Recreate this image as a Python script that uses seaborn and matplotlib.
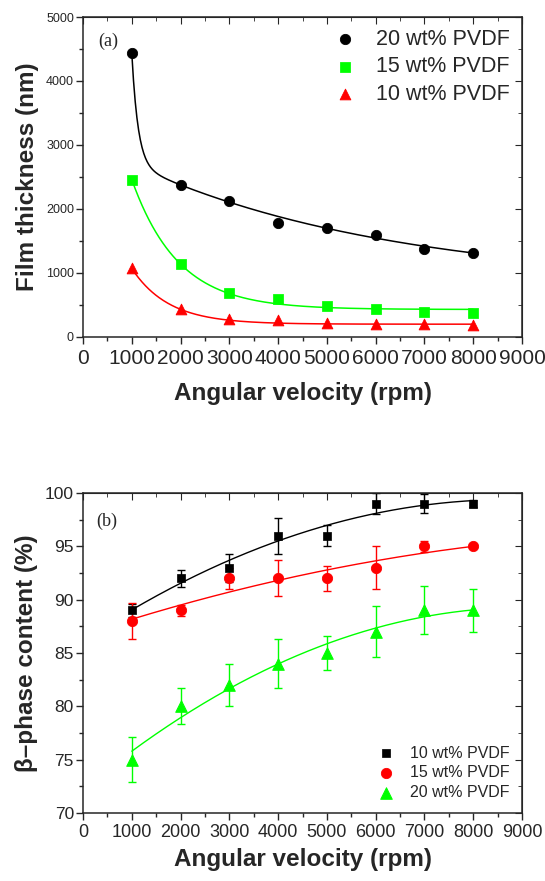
import numpy as np
import pandas as pd
import matplotlib
matplotlib.use("Agg")
import matplotlib.pyplot as plt
from matplotlib.ticker import MultipleLocator
import seaborn as sns

# angular velocity (rpm)
rpm = [1000, 2000, 3000, 4000, 5000, 6000, 7000, 8000]

# panel (a): film thickness (nm)
thick_20 = [4437, 2375, 2125, 1786, 1703, 1599, 1375, 1312]
thick_15 = [2458, 1140, 687, 594, 484, 437, 385, 370]
thick_10 = [1073, 432, 281, 266, 224, 208, 203, 187]

# decay fit parameters: (offset, amp1, tau1, amp2, tau2)
fit_20 = (800, 1737, 128, 1900, 5338)
fit_15 = (430, 2030, 950, 0, 1)
fit_10 = (200, 870, 757, 0, 1)

# panel (b): beta-phase content (%) and errors
beta_10 = [89, 92, 93, 96, 96, 99, 99, 99]
err_10 = [0.6, 0.8, 1.3, 1.7, 1.0, 1.0, 0.9, 0.3]
beta_15 = [88, 89, 92, 92, 92, 93, 95, 95]
err_15 = [1.7, 0.5, 1.0, 1.7, 1.15, 2.0, 0.5, 0.2]
beta_20 = [75, 80, 82, 84, 85, 87, 89, 89]
err_20 = [2.1, 1.7, 2.0, 2.3, 1.6, 2.4, 2.25, 2.0]

GREEN = "#00ff00"
RED = "#ff0000"
BLACK = "#000000"

sns.set_style("ticks")
plt.rcParams["font.family"] = ["Liberation Sans", "DejaVu Sans"]

fig = plt.figure(figsize=(5.45, 8.81), dpi=100)
ax_a = fig.add_axes([0.1523, 0.6175, 0.8055, 0.3632])
ax_b = fig.add_axes([0.1523, 0.0772, 0.8055, 0.3632])


def decay(x, p):
    y0, a1, t1, a2, t2 = p
    return y0 + a1 * np.exp(-(x - 1000) / t1) + a2 * np.exp(-(x - 1000) / t2)


def style_axes(ax, ymaj, ymin, ytick_size, xtick_size, xpad, lpad):
    ax.set_xlim(0, 9000)
    ax.xaxis.set_major_locator(MultipleLocator(1000))
    ax.xaxis.set_minor_locator(MultipleLocator(500))
    ax.yaxis.set_major_locator(MultipleLocator(ymaj))
    ax.yaxis.set_minor_locator(MultipleLocator(ymin))
    ax.tick_params(which="major", direction="out", length=5, width=1, pad=1.5)
    ax.tick_params(which="minor", direction="out", length=3, width=1)
    ax.tick_params(axis="y", labelsize=ytick_size)
    ax.tick_params(axis="x", labelsize=xtick_size, pad=xpad)
    for s in ax.spines.values():
        s.set_linewidth(1.1)
        s.set_visible(True)
    top = ax.secondary_xaxis("top")
    top.xaxis.set_major_locator(MultipleLocator(1000))
    top.xaxis.set_minor_locator(MultipleLocator(500))
    top.tick_params(which="major", direction="in", length=5, labeltop=False)
    top.tick_params(which="minor", direction="in", length=3)
    right = ax.secondary_yaxis("right")
    right.yaxis.set_major_locator(MultipleLocator(ymaj))
    right.yaxis.set_minor_locator(MultipleLocator(ymin))
    right.tick_params(which="major", direction="in", length=5, labelright=False)
    right.tick_params(which="minor", direction="in", length=3)
    ax.set_xlabel("Angular velocity (rpm)", fontsize=17.5, fontweight="bold", labelpad=lpad)


# ---------- panel (a) ----------
xs = np.linspace(1000, 8000, 400)
df_a = pd.DataFrame({"rpm": rpm, "t20": thick_20, "t15": thick_15, "t10": thick_10})
for p, c in [(fit_20, BLACK), (fit_15, GREEN), (fit_10, RED)]:
    sns.lineplot(x=xs, y=decay(xs, p), color=c, lw=1.1, ax=ax_a, legend=False)
sns.scatterplot(data=df_a, x="rpm", y="t20", marker="o", s=55, color=BLACK,
                edgecolor=BLACK, ax=ax_a, label="20 wt% PVDF", zorder=3)
sns.scatterplot(data=df_a, x="rpm", y="t15", marker="s", s=45, color=GREEN,
                edgecolor=GREEN, ax=ax_a, label="15 wt% PVDF", zorder=3)
sns.scatterplot(data=df_a, x="rpm", y="t10", marker="^", s=60, color=RED,
                edgecolor=RED, ax=ax_a, label="10 wt% PVDF", zorder=3)
ax_a.set_ylim(0, 5000)
style_axes(ax_a, 1000, 500, 9, 15, 4, 10)
ax_a.set_ylabel("Film thickness (nm)", fontsize=17.5, fontweight="bold", labelpad=5)
ax_a.legend(loc="upper right", fontsize=15.5, frameon=False, handletextpad=0.7,
            labelspacing=0.3, borderaxespad=0.15, handlelength=1.5)
ax_a.text(0.035, 0.925, "(a)", transform=ax_a.transAxes, fontsize=13,
          family=["Liberation Serif"], va="center", ha="left")

# ---------- panel (b) ----------
df_b = pd.DataFrame({"rpm": rpm, "b10": beta_10, "b15": beta_15, "b20": beta_20})
for col, err, c in [("b10", err_10, BLACK), ("b15", err_15, RED), ("b20", err_20, GREEN)]:
    coef = np.polyfit(df_b["rpm"], df_b[col], 2)
    sns.lineplot(x=xs, y=np.polyval(coef, xs), color=c, lw=1.0, ax=ax_b, legend=False)
    ax_b.errorbar(df_b["rpm"], df_b[col], yerr=err, fmt="none", ecolor=c,
                  elinewidth=1.0, capsize=3, capthick=1.0, zorder=2)
sns.scatterplot(data=df_b, x="rpm", y="b10", marker="s", s=40, color=BLACK,
                edgecolor=BLACK, ax=ax_b, label="10 wt% PVDF", zorder=3)
sns.scatterplot(data=df_b, x="rpm", y="b15", marker="o", s=55, color=RED,
                edgecolor=RED, ax=ax_b, label="15 wt% PVDF", zorder=3)
sns.scatterplot(data=df_b, x="rpm", y="b20", marker="^", s=70, color=GREEN,
                edgecolor=GREEN, ax=ax_b, label="20 wt% PVDF", zorder=3)
ax_b.set_ylim(70, 100)
style_axes(ax_b, 5, 2.5, 12.5, 13, 3, 5)
ax_b.set_ylabel("\u03b2\u2013phase content (%)", fontsize=17.5, fontweight="bold", labelpad=5)
ax_b.legend(loc="lower right", fontsize=11.5, frameon=False, handletextpad=0.7,
            labelspacing=0.3, borderaxespad=0.4, handlelength=1.5)
ax_b.text(0.03, 0.9125, "(b)", transform=ax_b.transAxes, fontsize=13,
          family=["Liberation Serif"], va="center", ha="left")

fig.savefig("out.png", dpi=100)
